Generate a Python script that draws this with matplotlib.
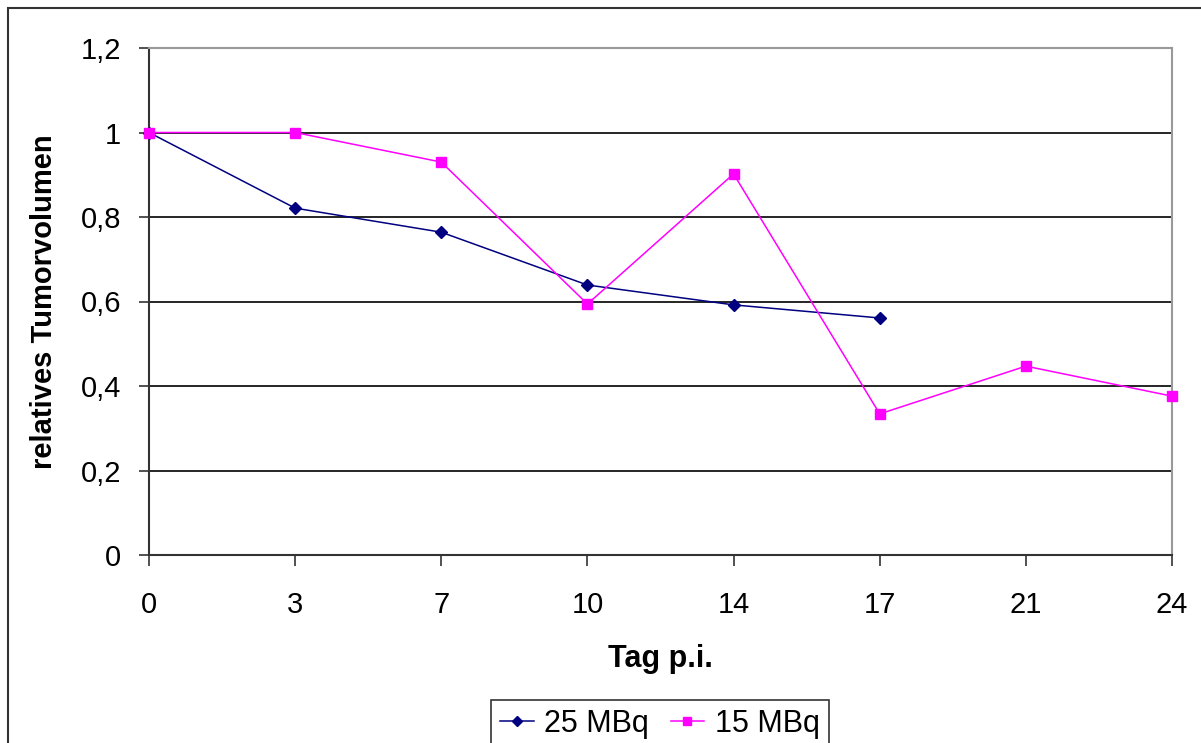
import matplotlib.pyplot as plt
from matplotlib.patches import Rectangle

# days p.i. (category axis, evenly spaced)
days = ["0", "3", "7", "10", "14", "17", "21", "24"]
vol_25 = [1.0, 0.821, 0.764, 0.639, 0.592, 0.561]
vol_15 = [1.0, 1.0, 0.930, 0.594, 0.902, 0.334, 0.447, 0.376]
yticks = [0, 0.2, 0.4, 0.6, 0.8, 1.0, 1.2]
ytick_labels = ["0", "0,2", "0,4", "0,6", "0,8", "1", "1,2"]

plt.rcParams["font.family"] = ["Liberation Sans", "DejaVu Sans"]

fig = plt.figure(figsize=(12.01, 7.43), dpi=100, facecolor="white")
ax = fig.add_axes([149 / 1201, 1 - 555 / 743, (1172 - 149) / 1201, (555 - 48) / 743])

# outer chart border (runs off right / bottom)
fig.patches.append(Rectangle((8 / 1201, -0.2), 1.2, 1.2 - 8 / 743,
                             transform=fig.transFigure, fill=False,
                             edgecolor="#333333", linewidth=1.5))

# gridlines
for y in yticks[1:-1]:
    ax.axhline(y, color="black", linewidth=1.2, zorder=1)

x25 = list(range(len(vol_25)))
x15 = list(range(len(vol_15)))
ax.plot(x25, vol_25, color="#000080", linewidth=1.1, marker="D",
        markersize=6, label="25 MBq", zorder=3, clip_on=False)
ax.plot(x15, vol_15, color="#FF00FF", linewidth=1.1, marker="s",
        markersize=7, label="15 MBq", zorder=3, clip_on=False)

ax.set_xlim(0, len(days) - 1)
ax.set_ylim(0, 1.2)
ax.set_xticks(range(len(days)))
ax.set_xticklabels(days)
ax.set_yticks(yticks)
ax.set_yticklabels(ytick_labels)

ax.tick_params(axis="y", length=7, width=1.2, pad=13, labelsize=21, color="#333333")
ax.tick_params(axis="x", length=8, width=1.2, pad=18, labelsize=21, color="#333333")

for side in ["left", "bottom"]:
    ax.spines[side].set_color("#333333")
    ax.spines[side].set_linewidth(1.5)
for side in ["top", "right"]:
    ax.spines[side].set_color("#999999")
    ax.spines[side].set_linewidth(1.5)

ax.set_xlabel("Tag p.i.", fontsize=22, fontweight="bold", labelpad=18)
ax.set_ylabel("relatives Tumorvolumen", fontsize=21, fontweight="bold", labelpad=16)

leg = fig.legend(loc="upper center", bbox_to_anchor=(660 / 1201, 1 - 700 / 743),
                 ncol=2, fontsize=22, frameon=True, fancybox=False,
                 handlelength=1.1, handletextpad=0.35, columnspacing=0.7,
                 borderpad=0.3, borderaxespad=0, markerscale=0.8)
leg.get_frame().set_edgecolor("black")
leg.get_frame().set_linewidth(1.2)

fig.savefig("out.png", dpi=100, facecolor="white")
